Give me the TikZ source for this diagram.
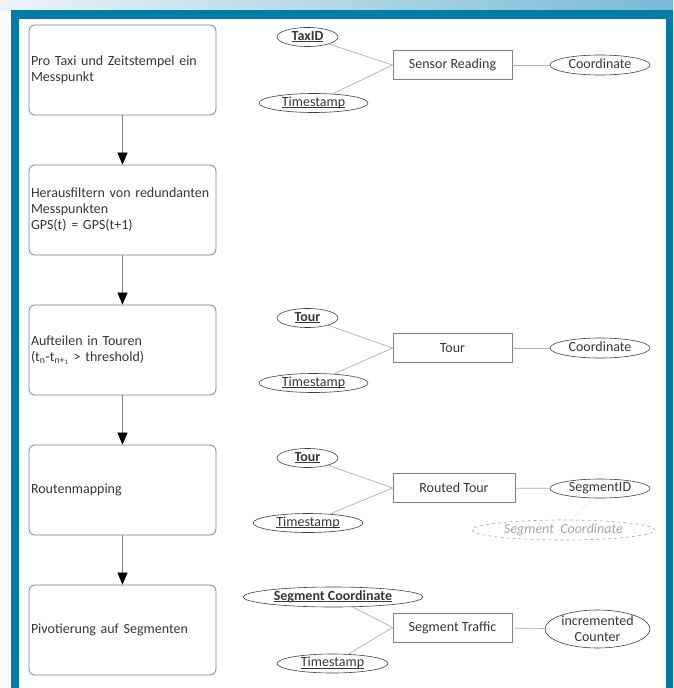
\documentclass[tikz,border=0pt]{standalone}
\usepackage{fontspec}
\setmainfont{Carlito}
\newcommand\ulx[1]{\setbox0\hbox{#1}\rlap{\rule[-1.6pt]{\wd0}{0.55pt}}\box0}
\usetikzlibrary{shapes.geometric,arrows.meta}
\definecolor{frameblue}{RGB}{0,124,165}
\definecolor{bandlight}{RGB}{236,244,248}
\definecolor{bandblue}{RGB}{120,185,212}
\definecolor{txt}{RGB}{55,55,55}
\definecolor{boxline}{RGB}{130,130,130}
\definecolor{linkgray}{RGB}{175,175,175}
\tikzset{
  x=1pt, y=-1pt,
  every node/.style={font=\fontsize{14}{16}\selectfont, text=txt},
  flowbox/.style={draw=boxline, line width=0.8pt, rounded corners=6pt, minimum width=187pt, minimum height=90pt, text width=183pt, inner xsep=2pt, align=left},
  flowarrow/.style={draw=boxline, line width=0.7pt, -{Triangle[length=12pt,width=10pt,color=black]}},
  entity/.style={draw=boxline, line width=0.7pt, minimum width=119pt, minimum height=29pt, inner sep=0pt},
  attr/.style={ellipse, draw=black!75, line width=0.6pt, inner sep=0pt, minimum height=19pt, text height=8.5pt, text depth=2.5pt},
  ghost/.style={ellipse, draw=black!35, dashed, line width=0.6pt, inner sep=0pt, minimum height=20pt, text=black!35, font=\fontsize{14}{16}\selectfont\itshape},
  link/.style={draw=linkgray, line width=0.7pt},
  dotlink/.style={draw=black!30, dotted, line width=0.6pt}
}
\begin{document}
\begin{tikzpicture}
\useasboundingbox (0,0) rectangle (673,688);
% background frame
\shade[left color=bandlight, right color=bandblue] (0,0) rectangle (673,10);
\fill[frameblue] (11,10) rectangle (673,688);
\fill[white] (19,19) rectangle (666,688);

% flowchart
\node[flowbox] (f1) at (122.5,70) {Pro Taxi und Zeitstempel ein\\Messpunkt};
\node[flowbox] (f2) at (122.5,210) {Herausfiltern von redundanten\\Messpunkten\\GPS(t) = GPS(t+1)};
\node[flowbox] (f3) at (122.5,350) {Aufteilen in Touren\\(t\textsubscript{n}-t\textsubscript{n+\textsubscript{1}} > threshold)};
\node[flowbox] (f4) at (122.5,490) {Routenmapping};
\node[flowbox] (f5) at (122.5,630) {Pivotierung auf Segmenten};
\draw[flowarrow] (f1) -- (f2);
\draw[flowarrow] (f2) -- (f3);
\draw[flowarrow] (f3) -- (f4);
\draw[flowarrow] (f4) -- (f5);

% ER 1
\node[entity] (sr) at (452.5,65) {Sensor Reading};
\node[attr, minimum width=61pt] (taxid) at (307.5,37) {\ulx{\textbf{TaxID}}};
\node[attr, minimum width=109pt] (ts1) at (313.5,103) {\ulx{Timestamp}};
\node[attr, minimum width=100pt, minimum height=20pt] (co1) at (600,65) {Coordinate};
\draw[link] (taxid) -- (sr.west);
\draw[link] (ts1) -- (sr.west);
\draw[link] (sr) -- (co1);

% ER 3
\node[entity] (tour) at (452.5,348) {Tour};
\node[attr, minimum width=61pt] (tourid) at (307.5,318) {\ulx{\textbf{Tour}}};
\node[attr, minimum width=109pt] (ts3) at (313.5,383) {\ulx{Timestamp}};
\node[attr, minimum width=100pt, minimum height=20pt] (co3) at (600,348) {Coordinate};
\draw[link] (tourid) -- (tour.west);
\draw[link] (ts3) -- (tour.west);
\draw[link] (tour) -- (co3);

% ER 4
\node[entity, minimum width=122pt] (rt) at (454,488) {Routed Tour};
\node[attr, minimum width=61pt] (tourid4) at (307.5,458) {\ulx{\textbf{Tour}}};
\node[attr, minimum width=110pt] (ts4) at (308,523) {\ulx{Timestamp}};
\node[attr, minimum width=100pt] (segid) at (600,488.5) {SegmentID};
\node[ghost, minimum width=183pt] (segco4) at (563.5,530) {Segment\ \ Coordinate};
\draw[link] (tourid4) -- (rt.west);
\draw[link] (ts4) -- (rt.west);
\draw[link] (rt) -- (segid);
\draw[dotlink] (segid) -- (segco4);

% ER 5
\node[entity] (st) at (452.5,627.5) {Segment Traffic};
\node[attr, minimum width=180pt, minimum height=20pt] (segco5) at (333,597) {\ulx{\textbf{Segment Coordinate}}};
\node[attr, minimum width=111pt] (ts5) at (332.5,663.5) {\ulx{Timestamp}};
\node[ellipse, draw=black!75, line width=0.6pt, minimum width=105pt, minimum height=38pt, inner sep=0pt, inner ysep=-2.5pt, align=center] (cnt) at (597.5,629) {incremented\\Counter};
\draw[link] (segco5) -- (st.west);
\draw[link] (ts5) -- (st.west);
\draw[link] (st) -- (cnt);
\end{tikzpicture}
\end{document}
